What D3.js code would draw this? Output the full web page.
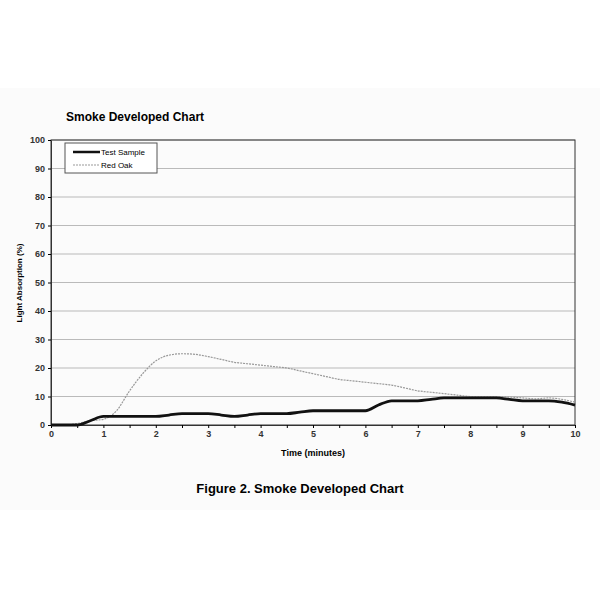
<!DOCTYPE html>
<html><head><meta charset="utf-8">
<script src="https://cdn.jsdelivr.net/npm/d3@7"></script>
<style>body{margin:0;background:#fff;}</style>
</head><body>
<svg id="chart" width="600" height="600"></svg>
<script>
const times = d3.range(0, 10.01, 0.25);
const testSample = [0,0,0,1.5,3,3,3,3,3,3.5,4,4,4,3.5,3,3.5,4,4,4,4.5,5,5,5,5,5,7,8.5,8.5,8.5,9,9.5,9.5,9.5,9.5,9.5,9,8.5,8.5,8.5,8,7];
const redOak = [0,0,0.5,1.5,2,5,12,18,22.5,24.5,25,24.8,24,23,22,21.5,21,20.5,20,19,18,17,16,15.5,15,14.5,14,13,12,11.5,11,10.5,10,10,10,9.8,9.5,9.2,9.5,9,8];
const yTicks = d3.range(0, 101, 10);

const svg = d3.select("#chart");
const font = "Liberation Sans, Arial, sans-serif";
const x = d3.scaleLinear().domain([0, 10]).range([51, 575]);
const y = d3.scaleLinear().domain([0, 100]).range([425, 140]);

// scanned page band
svg.append("rect").attr("x", 0).attr("y", 88).attr("width", 600).attr("height", 422).style("fill", "#fbfbfb");

svg.append("text").attr("x", 66).attr("y", 121)
  .style("font-family", font).style("font-size", "12px").style("font-weight", "bold")
  .text("Smoke Developed Chart");

// grid
svg.append("g").selectAll("line").data(yTicks.slice(1)).enter().append("line")
  .attr("x1", 51).attr("x2", 575).attr("y1", d => y(d)).attr("y2", d => y(d))
  .style("stroke", "#aaa").style("stroke-width", 0.8);

svg.append("rect").attr("x", 51).attr("y", 140).attr("width", 524).attr("height", 285)
  .style("fill", "none").style("stroke", "#333").style("stroke-width", 1);

const yAxis = svg.append("g").attr("transform", "translate(51,0)")
  .call(d3.axisLeft(y).tickValues(yTicks).tickSize(3).tickSizeOuter(0));
const xAxis = svg.append("g").attr("transform", "translate(0,425)")
  .call(d3.axisBottom(x).tickValues(d3.range(0, 10.01, 0.5)).tickSize(3).tickSizeOuter(0)
    .tickFormat(d => Number.isInteger(d) ? d : ""));
[yAxis, xAxis].forEach(a => {
  a.selectAll("text").style("font-family", font).style("font-size", "9px").style("font-weight", "bold").style("fill", "#333");
  a.select(".domain").style("stroke", "#333");
});

svg.append("text").attr("x", 313).attr("y", 456).attr("text-anchor", "middle")
  .style("font-family", font).style("font-size", "9px").style("font-weight", "bold").text("Time (minutes)");
svg.append("text").attr("transform", "translate(22,283) rotate(-90)").attr("text-anchor", "middle")
  .style("font-family", font).style("font-size", "8px").style("font-weight", "bold").text("Light Absorption (%)");

const line = d3.line().x((d, i) => x(times[i])).y(d => y(d)).curve(d3.curveMonotoneX);
svg.append("path").datum(redOak).attr("d", line)
  .style("fill", "none").style("stroke", "#999").style("stroke-width", 1.2).style("stroke-dasharray", "2,1");
svg.append("path").datum(testSample).attr("d", line)
  .style("fill", "none").style("stroke", "#111").style("stroke-width", 2.8);

// legend
const lg = svg.append("g");
lg.append("rect").attr("x", 65).attr("y", 143).attr("width", 92).attr("height", 30)
  .style("fill", "#fff").style("stroke", "#555");
lg.append("line").attr("x1", 73).attr("x2", 100).attr("y1", 152).attr("y2", 152).style("stroke", "#111").style("stroke-width", 2.5);
lg.append("line").attr("x1", 73).attr("x2", 100).attr("y1", 165).attr("y2", 165).style("stroke", "#999").style("stroke-width", 1.2).style("stroke-dasharray", "2,1");
lg.append("text").attr("x", 101).attr("y", 155).style("font-family", font).style("font-size", "8px").text("Test Sample");
lg.append("text").attr("x", 101).attr("y", 168).style("font-family", font).style("font-size", "8px").text("Red Oak");

svg.append("text").attr("x", 300).attr("y", 493).attr("text-anchor", "middle")
  .style("font-family", font).style("font-size", "13px").style("font-weight", "bold").text("Figure 2.  Smoke Developed Chart");
</script>
</body></html>
